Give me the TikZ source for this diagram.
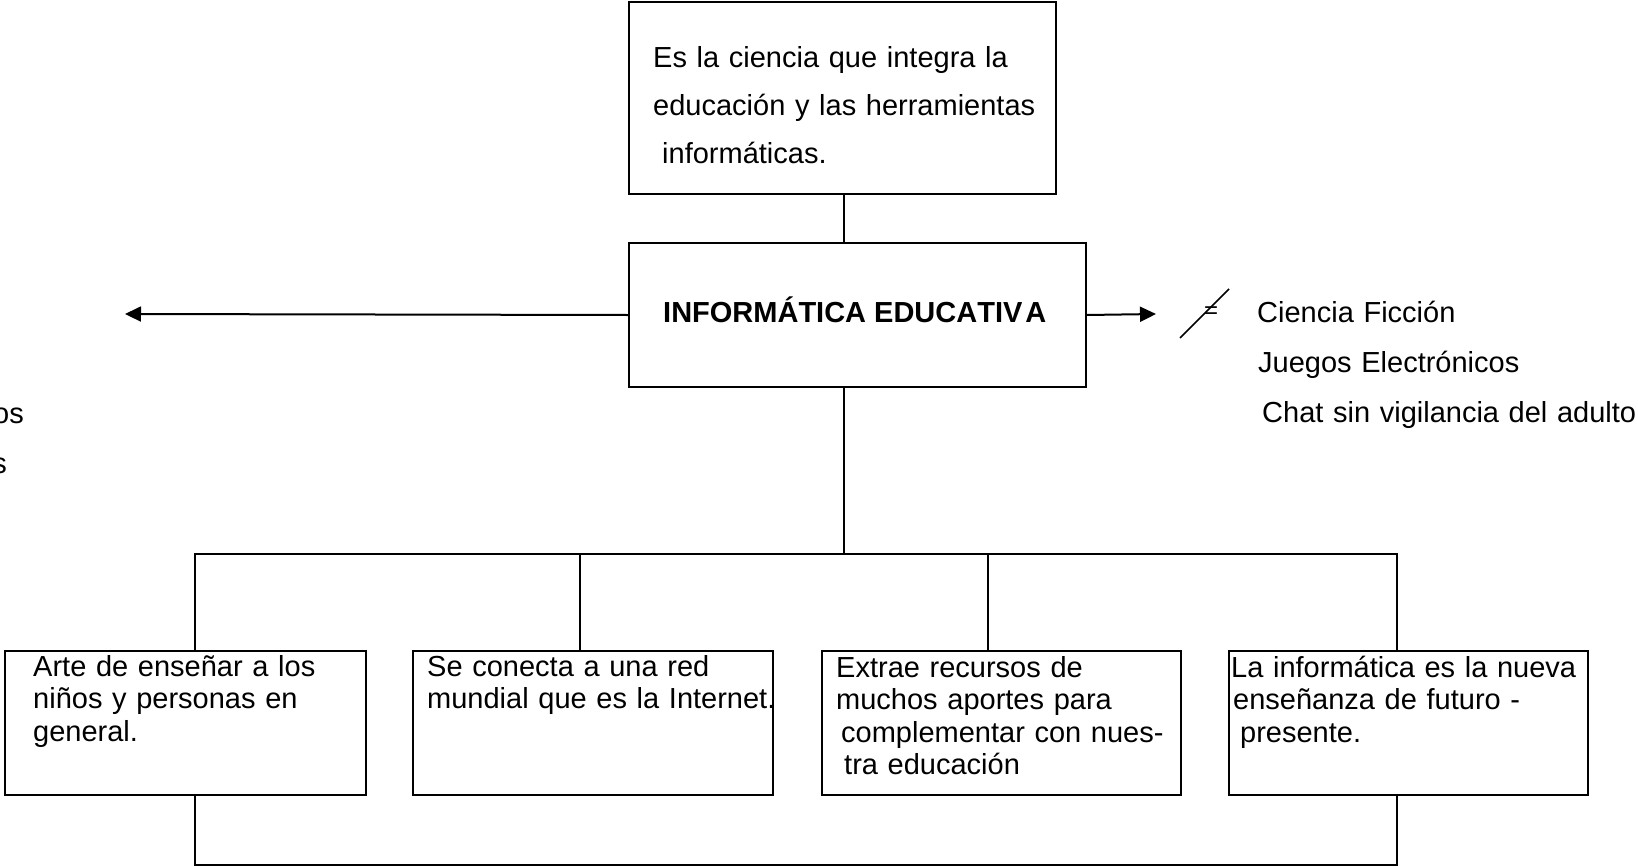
\documentclass[tikz,border=0pt]{standalone}
\usepackage{fontspec}
\setmainfont{Liberation Sans}[Kerning=Off]
\usetikzlibrary{arrows.meta}
\begin{document}
\begin{tikzpicture}[x=1pt,y=-1pt,
  box/.style={draw, line width=2pt, inner sep=0pt, anchor=north west},
  conn/.style={line width=1.8pt},
  arr/.style={line width=2pt, -{Triangle[length=16pt,width=15pt]}},
  txt/.style={inner sep=0pt, anchor=base west, align=left, text width=420pt, font=\fontsize{29}{48}\selectfont},
  rtxt/.style={inner sep=0pt, anchor=base west, align=left, text width=420pt, font=\fontsize{29}{50}\selectfont},
  btxt/.style={inner sep=0pt, anchor=base west, align=left, text width=360pt, font=\fontsize{29}{32.5}\selectfont},
  cut/.style={inner sep=0pt, anchor=base east, font=\fontsize{29}{32}\selectfont}
]
\useasboundingbox (0,0) rectangle (1638,867);
% boxes
\node[box, minimum width=427pt, minimum height=192pt] (top) at (628,1) {};
\node[box, minimum width=457pt, minimum height=144pt] (main) at (628,242) {};
\node[box, minimum width=361pt, minimum height=144pt] (b1) at (4,650) {};
\node[box, minimum width=360pt, minimum height=144pt] (b2) at (412,650) {};
\node[box, minimum width=359pt, minimum height=144pt] (b3) at (821,650) {};
\node[box, minimum width=359pt, minimum height=144pt] (b4) at (1228,650) {};
% texts
\node[txt] (ttop) at (653,67) {Es la ciencia que integra la\\educación y las herramientas\\\hspace*{9pt}informáticas.};
\node[inner sep=0pt, anchor=base west, font=\fontsize{29}{34}\selectfont\bfseries] (tmain) at (663,322) {INFORMÁTICA EDUCATIV\kern3pt A};
\node[rtxt] (tright) at (1257,322) {Ciencia Ficción\\\hspace*{1pt}Juegos Electrónicos\\\hspace*{5pt}Chat sin vigilancia del adulto};
\node[cut] (cut1) at (24,423) {os};
\node[cut] (cut2) at (7,473) {s};
\node[btxt] (t1) at (33,676) {Arte de enseñar a los\\niños y personas en\\general.};
\node[btxt] (t2) at (427,676) {Se conecta a una red\\mundial que es la Internet.};
\node[btxt] (t3) at (836,677) {Extrae recursos de\\muchos aportes para\\\hspace*{5pt}complementar con nues-\\\hspace*{8pt}tra educación};
\node[btxt] (t4) at (1231,677) {La informática es la nueva\\\hspace*{2pt}enseñanza de futuro -\\\hspace*{9pt}presente.};
% not-equal sign
\coordinate (sl1) at (1180,338);
\coordinate (sl2) at (1229,289);
\draw[line width=1.5pt] (sl1) -- (sl2);
\node[inner sep=0pt, font=\fontsize{24}{28}\selectfont] (neq) at (1211,313) {=};
% arrows
\coordinate (ltip) at (125,314);
\coordinate (rtip) at (1156,314);
\draw[arr] (main.west) -- (ltip);
\draw[arr] (main.east) -- (rtip);
% connectors
\coordinate (hub) at (844,554);
\draw[conn] (top.south -| hub) -- (main.north -| hub);
\draw[conn] (main.south -| hub) -- (hub);
\coordinate (v1) at (195,554);
\coordinate (v2) at (580,554);
\coordinate (v3) at (988,554);
\coordinate (v4) at (1397,554);
\draw[conn] (b1.north -| v1) -- (v1) -- (v4) -- (b4.north -| v4);
\draw[conn] (v2) -- (b2.north -| v2);
\draw[conn] (v3) -- (b3.north -| v3);
\coordinate (w1) at (195,865);
\coordinate (w4) at (1397,865);
\draw[conn] (b1.south -| w1) -- (w1) -- (w4) -- (b4.south -| w4);
\end{tikzpicture}
\end{document}
